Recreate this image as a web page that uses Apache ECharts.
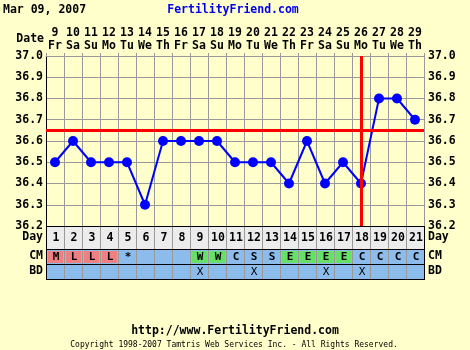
<!DOCTYPE html>
<html><head><meta charset="utf-8">
<script src="https://cdn.jsdelivr.net/npm/echarts@6/dist/echarts.min.js"></script>
<style>html,body{margin:0;padding:0;background:#ffffcc}#c{width:470px;height:350px}</style>
</head><body><div id="c"></div><script>
// ---- data ----
const chartDate = 'Mar 09, 2007';
const siteName = 'FertilityFriend.com';
const siteUrl = 'http://www.FertilityFriend.com';
const copyright = 'Copyright 1998-2007 Tamtris Web Services Inc. - All Rights Reserved.';
const dates = ['9','10','11','12','13','14','15','16','17','18','19','20','21','22','23','24','25','26','27','28','29'];
const weekdays = ['Fr','Sa','Su','Mo','Tu','We','Th','Fr','Sa','Su','Mo','Tu','We','Th','Fr','Sa','Su','Mo','Tu','We','Th'];
const cycleDays = ['1','2','3','4','5','6','7','8','9','10','11','12','13','14','15','16','17','18','19','20','21'];
const temps = [36.5,36.6,36.5,36.5,36.5,36.3,36.6,36.6,36.6,36.6,36.5,36.5,36.5,36.4,36.6,36.4,36.5,36.4,36.8,36.8,36.7];
const coverline = 36.65;
const ovulationDate = '26';
const cmCodes = ['M','L','L','L','*','','','','W','W','C','S','S','E','E','E','E','C','C','C','C'];
const bdMarks = ['','','','','','','','','X','','','X','','','','X','','X','','',''];
const tempMin = 36.2, tempMax = 37.0, tempStep = 0.1;
const rowNames = ['Day','CM','BD'];

// ---- styles ----
const FONT = '"DejaVu Sans Mono", monospace';
const BG = '#ffffcc', GRID = '#999999';
const CM_BG = '#8cbcec', DAY_BG = '#ececec';
const CM_COLORS = {M:'#f08080', L:'#f08080', W:'#66e066', E:'#66e066'};

const chart = echarts.init(document.getElementById('c'));

function cellSeries(xi, yi, labels, bg, fontWeight, fontSize, isLast) {
  return {
    type: 'custom', xAxisIndex: xi, yAxisIndex: yi, silent: true,
    data: labels.map((t, i) => [i, 0]),
    renderItem: (params, api) => {
      const i = params.dataIndex;
      const c = api.coord([i, 0]);
      const s = api.size([1, 1]);
      const x0 = Math.round(c[0] - s[0] / 2), y0 = Math.round(c[1] - s[1] / 2);
      const w = Math.round(s[0]), h = Math.round(s[1]);
      const t = labels[i];
      const ch = [{type: 'rect', shape: {x: x0, y: y0, width: w, height: h}, style: {fill: bg}}];
      if (yi === 4 && CM_COLORS[t]) {
        ch.push({type: 'rect', shape: {x: x0 + 2, y: y0 + 2, width: w - 3, height: h - 3}, style: {fill: CM_COLORS[t]}});
      }
      ch.push({type: 'line', shape: {x1: x0 + 0.5, y1: y0, x2: x0 + 0.5, y2: y0 + h}, style: {stroke: i === 0 ? '#000' : GRID, lineWidth: 1}});
      if (i === labels.length - 1) {
        ch.push({type: 'line', shape: {x1: x0 + w + 0.5, y1: y0, x2: x0 + w + 0.5, y2: y0 + h + 1}, style: {stroke: '#000', lineWidth: 1}});
      }
      ch.push({type: 'line', shape: {x1: x0, y1: y0 + 0.5, x2: x0 + w + 1, y2: y0 + 0.5}, style: {stroke: '#000', lineWidth: 1}});
      if (isLast) {
        ch.push({type: 'line', shape: {x1: x0, y1: y0 + h + 0.5, x2: x0 + w + 1, y2: y0 + h + 0.5}, style: {stroke: '#000', lineWidth: 1}});
      }
      if (t) {
        ch.push({type: 'text', style: {text: t, x: x0 + w / 2 + 1, y: y0 + h / 2 + 1, align: 'center', verticalAlign: 'middle',
          font: fontWeight + ' ' + fontSize + 'px ' + FONT, fill: '#000'}});
      }
      return {type: 'group', children: ch};
    }
  };
}

function rowAxes(gi, name) {
  const lab = {margin: 3, color: '#000', fontFamily: FONT, fontWeight: 'bold', fontSize: 11.5};
  return [
    {gridIndex: gi, type: 'category', data: [name], axisLine: {show: false}, axisTick: {show: false}, axisLabel: lab, splitLine: {show: false}},
    {gridIndex: gi, type: 'category', data: [name], position: 'right', axisLine: {show: false}, axisTick: {show: false}, axisLabel: Object.assign({}, lab, {margin: 4}), splitLine: {show: false}}
  ];
}

const hiddenX = gi => ({gridIndex: gi, type: 'category', data: cycleDays, show: false, boundaryGap: true});

const option = {
  backgroundColor: BG,
  animation: false,
  grid: [
    {left: 46, right: 46, top: 56, height: 170},
    {left: 46, right: 46, top: 226, height: 23},
    {left: 46, right: 46, top: 249, height: 15},
    {left: 46, right: 46, top: 264, height: 15}
  ],
  xAxis: [
    {gridIndex: 0, type: 'category', data: dates, position: 'top', boundaryGap: true,
      axisLine: {show: true, lineStyle: {color: GRID}},
      axisTick: {show: true, length: 3, interval: 0, lineStyle: {color: GRID}},
      axisLabel: {interval: 0, margin: 3, color: '#000',
        formatter: (v, i) => '{d|' + v + '}\n{w|' + weekdays[i] + '}',
        rich: {d: {fontFamily: FONT, fontWeight: 'bold', fontSize: 11.5, lineHeight: 13, color: '#000'},
               w: {fontFamily: FONT, fontWeight: 'bold', fontSize: 11.5, lineHeight: 13, color: '#000'}}},
      splitLine: {show: true, interval: 0, lineStyle: {color: GRID}}},
    hiddenX(1), hiddenX(2), hiddenX(3)
  ],
  yAxis: [
    {gridIndex: 0, type: 'value', min: tempMin, max: tempMax, interval: tempStep,
      axisLine: {show: true, lineStyle: {color: '#000'}}, axisTick: {show: false},
      axisLabel: {margin: 3, color: '#000', fontFamily: FONT, fontWeight: 'bold', fontSize: 11.5, formatter: v => v.toFixed(1)},
      splitLine: {show: true, lineStyle: {color: GRID}}},
    {gridIndex: 0, type: 'value', position: 'right', min: tempMin, max: tempMax, interval: tempStep,
      axisLine: {show: true, lineStyle: {color: GRID}}, axisTick: {show: false},
      axisLabel: {margin: 4, color: '#000', fontFamily: FONT, fontWeight: 'bold', fontSize: 11.5, formatter: v => v.toFixed(1)},
      splitLine: {show: false}},
    ...rowAxes(1, rowNames[0]), ...rowAxes(2, rowNames[1]), ...rowAxes(3, rowNames[2])
  ],
  graphic: [
    {type: 'text', left: 3, top: 4, style: {text: chartDate, font: 'bold 11.5px ' + FONT, fill: '#000'}},
    {type: 'text', x: 233, y: 10, style: {text: siteName, font: 'bold 11.5px ' + FONT, fill: '#0000ee', align: 'center', verticalAlign: 'middle'}},
    {type: 'text', x: 44, y: 39, style: {text: 'Date', font: 'bold 11.5px ' + FONT, fill: '#000', align: 'right', verticalAlign: 'middle'}},
    {type: 'text', x: 235, y: 331, style: {text: siteUrl, font: 'bold 11.5px ' + FONT, fill: '#000', align: 'center', verticalAlign: 'middle'}},
    {type: 'text', x: 234, y: 345, style: {text: copyright, font: '8px ' + FONT, fill: '#000', align: 'center', verticalAlign: 'middle'}}
  ],
  series: [
    {type: 'line', xAxisIndex: 0, yAxisIndex: 0, data: temps, z: 3, silent: true,
      symbol: 'circle', symbolSize: 10, showAllSymbol: true,
      lineStyle: {color: '#0000ff', width: 2}, itemStyle: {color: '#0000ff'}},
    {type: 'line', xAxisIndex: 0, yAxisIndex: 0, data: [], z: 5, silent: true,
      markLine: {silent: true, symbol: 'none', label: {show: false},
        lineStyle: {color: '#ff0000', width: 3, type: 'solid'},
        data: [{yAxis: coverline}, {xAxis: ovulationDate}]}},
    cellSeries(1, 2, cycleDays, DAY_BG, 'bold', 11.5, false),
    cellSeries(2, 4, cmCodes, CM_BG, 'bold', 11, false),
    cellSeries(3, 6, bdMarks, CM_BG, 'normal', 11, true)
  ]
};
chart.setOption(option);
</script></body></html>
